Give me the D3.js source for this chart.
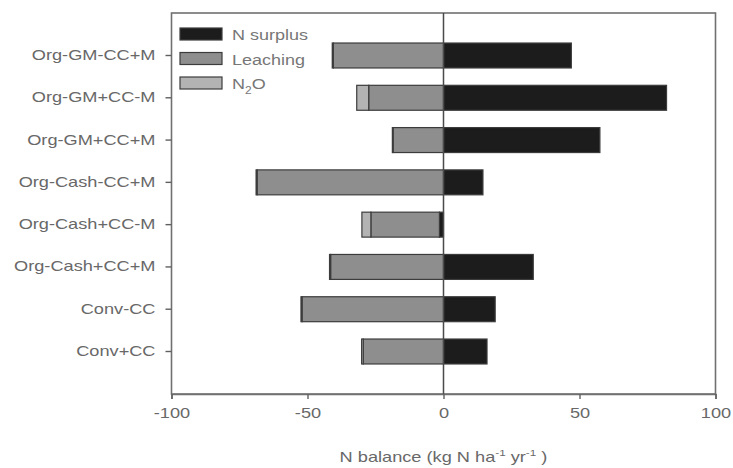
<!DOCTYPE html>
<html>
<head>
<meta charset="utf-8">
<script src="https://cdn.jsdelivr.net/npm/d3@7"></script>
<style>
  html, body { margin: 0; padding: 0; background: #fff; }
  svg { display: block; }
  text { font-family: "Liberation Sans", Arial, sans-serif; fill: #666; }
</style>
</head>
<body>
<svg id="chart" width="733" height="468"></svg>
<script>
// Nitrogen balance per cropping system (kg N ha-1 yr-1)
const categories = ["Org-GM-CC+M", "Org-GM+CC-M", "Org-GM+CC+M", "Org-Cash-CC+M",
                    "Org-Cash+CC-M", "Org-Cash+CC+M", "Conv-CC", "Conv+CC"];
const nSurplus = [47, 82, 57.5, 14.5, -1.5, 33, 19, 16];
const leaching = [-40.5, -27.5, -18.5, -68.5, -25.2, -41.5, -52, -29.5];
const n2o      = [-0.4, -4.4, -0.3, -0.4, -3.3, -0.4, -0.4, -0.6];
const seriesNames = ["N surplus", "Leaching", "N2O"];
const xTicks = [-100, -50, 0, 50, 100];
const colors = ["#1c1c1c", "#8e8e8e", "#b3b3b3"];

const svg = d3.select("#chart");
const plot = { left: 171.5, right: 715.5, top: 13, bottom: 394 };
const stretch = 1.3; // wide letterforms
const textColor = "#686868";

const x = d3.scaleLinear().domain([-100, 100]).range([plot.left, plot.right]);
const y = d3.scaleBand().domain(categories).range([plot.top, plot.bottom])
  .paddingInner(0.41).paddingOuter(0.71);

const rows = categories.map((c, i) => ({ cat: c, s: nSurplus[i], l: leaching[i], n: n2o[i] }));
const stack = d3.stack().keys(["s", "l", "n"]).offset(d3.stackOffsetDiverging);
const layers = stack(rows);

// bars
svg.append("g").selectAll("g").data(layers).join("g")
  .attr("fill", (d, i) => colors[i])
  .selectAll("rect").data(d => d).join("rect")
  .attr("x", d => x(Math.min(d[0], d[1])))
  .attr("width", d => Math.abs(x(d[1]) - x(d[0])))
  .attr("y", d => y(d.data.cat))
  .attr("height", y.bandwidth())
  .attr("stroke", "#3c3c3c")
  .attr("stroke-width", 1.2);

// frame
svg.append("rect")
  .attr("x", plot.left).attr("y", plot.top)
  .attr("width", plot.right - plot.left).attr("height", plot.bottom - plot.top)
  .attr("fill", "none").attr("stroke", "#707070").attr("stroke-width", 1.6);

// zero line
svg.append("line")
  .attr("x1", x(0)).attr("x2", x(0)).attr("y1", plot.top).attr("y2", plot.bottom)
  .attr("stroke", "#4a4a4a").attr("stroke-width", 1.5);

// bottom axis
const xAxis = svg.append("g").attr("transform", `translate(0,${plot.bottom})`)
  .call(d3.axisBottom(x).tickValues(xTicks).tickSize(5).tickPadding(9)
    .tickFormat(d => d < 0 ? "-" + Math.abs(d) : d));
xAxis.select(".domain").attr("stroke", "#707070").attr("stroke-width", 1.6);
xAxis.selectAll(".tick line").attr("stroke", "#606060").attr("stroke-width", 1.4);
xAxis.selectAll(".tick text")
  .attr("font-size", 14).style("fill", textColor)
  .attr("transform", `scale(${stretch},1)`);

// left axis
const yAxis = svg.append("g").attr("transform", `translate(${plot.left},0)`)
  .call(d3.axisLeft(y).tickSize(6).tickPadding(9));
yAxis.select(".domain").remove();
yAxis.selectAll(".tick line").attr("stroke", "#606060").attr("stroke-width", 1.4);
yAxis.selectAll(".tick text")
  .attr("font-size", 14).style("fill", textColor)
  .attr("x", -16 / stretch)
  .attr("transform", `scale(${stretch},1)`);

// axis title
const title = svg.append("text")
  .attr("transform", `translate(${x(0)},462) scale(${stretch},1)`)
  .attr("text-anchor", "middle").attr("font-size", 14).style("fill", textColor);
title.append("tspan").text("N balance (kg N ha");
title.append("tspan").attr("dy", -6).attr("font-size", 9).text("-1");
title.append("tspan").attr("dy", 6).text(" yr");
title.append("tspan").attr("dy", -6).attr("font-size", 9).text("-1");
title.append("tspan").attr("dy", 6).text(" )");

// legend
const legend = svg.append("g").attr("transform", "translate(180,28)");
seriesNames.forEach((name, i) => {
  const g = legend.append("g").attr("transform", `translate(0,${i * 24.5})`);
  g.append("rect").attr("width", 42).attr("height", 12)
    .attr("fill", colors[i]).attr("stroke", "#3c3c3c").attr("stroke-width", 1.2);
  const t = g.append("text")
    .attr("transform", `translate(52,12) scale(1.2,1)`)
    .attr("font-size", 15).style("fill", "#777");
  if (name === "N2O") {
    t.append("tspan").text("N");
    t.append("tspan").attr("dy", 5).attr("font-size", 10).text("2");
    t.append("tspan").attr("dy", -5).text("O");
  } else {
    t.text(name);
  }
});
</script>
</body>
</html>
